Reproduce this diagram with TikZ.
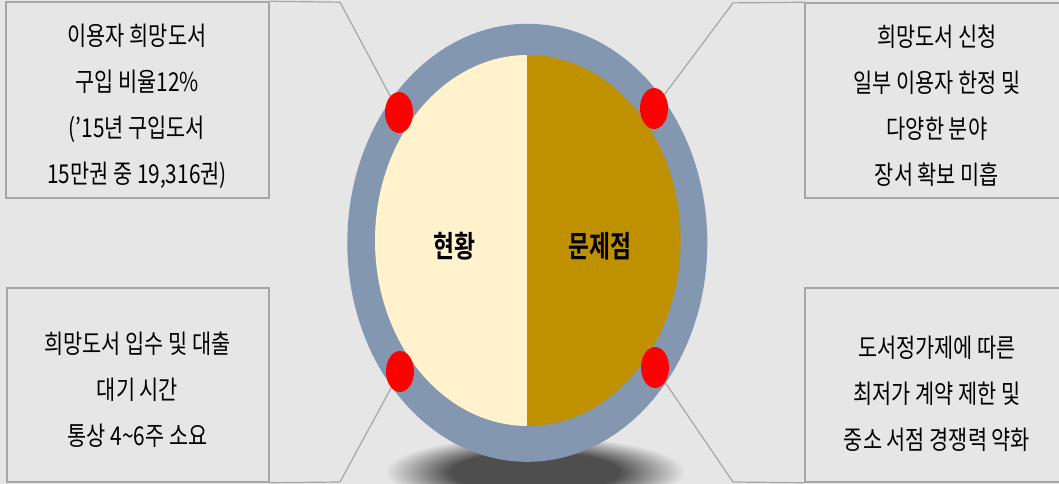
\documentclass[tikz,border=0pt]{standalone}
\usepackage{fontspec}
\usetikzlibrary{shapes.geometric}
\newfontfamily\kr[FakeStretch=0.8]{Noto Sans CJK KR}
\newfontfamily\krbold[FakeStretch=0.76]{Noto Sans CJK KR Bold}
\definecolor{bg}{HTML}{E6E6E6}
\definecolor{ring}{HTML}{8497B0}
\definecolor{cream}{HTML}{FFF2CC}
\definecolor{gold}{HTML}{BF9000}
\definecolor{boxline}{HTML}{A6A6A6}
\definecolor{shc}{HTML}{4E4E4E}
\pgfdeclareradialshading{shadowshade}{\pgfpoint{0bp}{0bp}}{color(0bp)=(shc); color(14bp)=(shc); color(25bp)=(bg); color(50bp)=(bg)}
\tikzset{
  infobox/.style={draw=boxline, line width=1.5pt, fill=bg, rectangle, inner sep=0pt},
  infotext/.style={font=\kr\fontsize{26pt}{46pt}\selectfont, align=center, text=black, inner sep=0pt},
  title/.style={font=\krbold\fontsize{30pt}{36pt}\selectfont, text=black, inner sep=0pt},
  conn/.style={draw=boxline, line width=1.2pt},
  dot/.style={ellipse, fill=red, draw=none, minimum width=28pt, minimum height=41pt, inner sep=0pt}
}
\begin{document}
\begin{tikzpicture}[x=1pt,y=-1pt]
\useasboundingbox (0,0) rectangle (1059,484);
\clip (0,0) rectangle (1059,484);
\fill[bg] (0,0) rectangle (1059,484);
% shadow
\shade[shading=shadowshade] (535,472) ellipse [x radius=150pt, y radius=36pt];
% boxes
\node[infobox, minimum width=263pt, minimum height=196pt] (b1) at (137.5,100) {};
\node[infobox, minimum width=265pt, minimum height=195pt] (b2) at (937.5,100.5) {};
\node[infobox, minimum width=262pt, minimum height=194pt] (b3) at (138,385) {};
\node[infobox, minimum width=265pt, minimum height=194pt] (b4) at (937.5,385) {};
% dots positions (coordinates) and bends
\coordinate (k1) at (340,2.2);
\coordinate (k2) at (733,2.9);
\coordinate (k3) at (340,482);
\coordinate (k4) at (733,482);
\coordinate (p1) at (399,112.5);
\coordinate (p2) at (654,108.5);
\coordinate (p3) at (400,371.5);
\coordinate (p4) at (655,367.5);
% connectors
\draw[conn] (b1.north east) -- (k1) -- (p1);
\draw[conn] (b2.north west) -- (k2) -- (p2);
\draw[conn] (b3.south east) -- (k3) -- (p3);
\draw[conn] (b4.south west) -- (k4) -- (p4);
% ellipse
\fill[ring] (527.3,242.8) ellipse [x radius=180pt, y radius=219pt];
\begin{scope}
  \clip (527.8,240.5) ellipse [x radius=152.8pt, y radius=185.5pt];
  \fill[cream] (370,50) rectangle (526.7,430);
  \fill[gold] (526.7,50) rectangle (690,430);
\end{scope}
% dots
\node[dot] (d1) at (p1) {};
\node[dot] (d2) at (p2) {};
\node[dot] (d3) at (p3) {};
\node[dot] (d4) at (p4) {};
% titles
\node[title] (t1) at (454.5,246.5) {현황};
\node[title] (t2) at (600,246.5) {문제점};
% texts
\node[infotext] (x1) at (137,106) {이용자 희망도서\\구입 비율12\%\\(’15년 구입도서\\15만권 중 19,316권)};
\node[infotext] (x2) at (937,106) {희망도서 신청\\일부 이용자 한정 및\\다양한 분야\\장서 확보 미흡};
\node[infotext] (x3) at (137.5,390) {희망도서 입수 및 대출\\대기 시간\\통상 4\textasciitilde 6주 소요};
\node[infotext] (x4) at (937,394) {도서정가제에 따른\\최저가 계약 제한 및\\중소 서점 경쟁력 약화};
\end{tikzpicture}
\end{document}
